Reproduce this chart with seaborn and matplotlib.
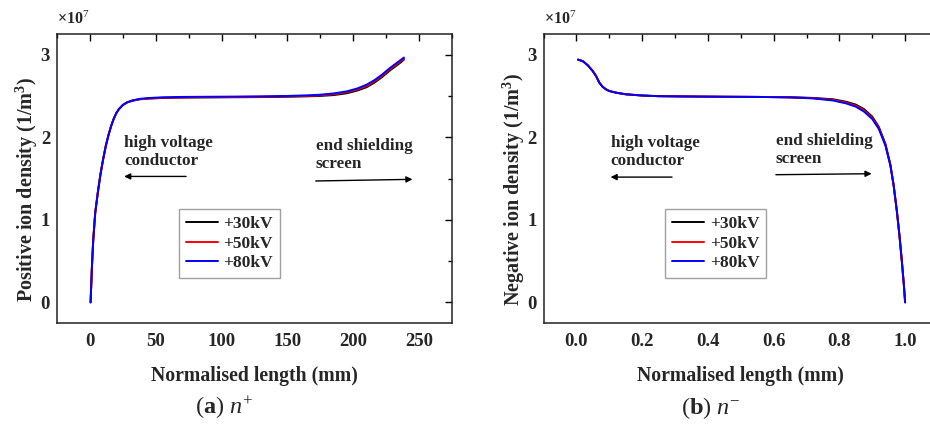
import matplotlib
matplotlib.use("Agg")
import matplotlib.pyplot as plt
from matplotlib.ticker import MultipleLocator
import seaborn as sns
import pandas as pd

# ---- data (densities in units of 1e7 1/m^3) ----
series = ["+30kV", "+50kV", "+80kV"]
colors = ["black", "red", "blue"]

pos_x = [0.5, 1.5, 2.5, 4, 6, 8, 10, 12, 14, 16, 18, 20, 22, 25, 28, 32, 38, 45,
         55, 70, 90, 110, 130, 150, 165, 175, 185, 195, 203, 210, 216, 222, 228,
         233, 236, 238.5]
pos_30 = [0, 0.42, 0.75, 1.08, 1.33, 1.55, 1.73, 1.89, 2.02, 2.13, 2.22, 2.29,
          2.34, 2.39, 2.42, 2.44, 2.46, 2.468, 2.475, 2.48, 2.482, 2.484, 2.486,
          2.49, 2.495, 2.50, 2.51, 2.532, 2.565, 2.605, 2.66, 2.73, 2.81, 2.87,
          2.905, 2.94]
pos_50 = [0, 0.42, 0.75, 1.08, 1.33, 1.55, 1.73, 1.89, 2.02, 2.13, 2.22, 2.29,
          2.34, 2.39, 2.42, 2.443, 2.46, 2.47, 2.478, 2.482, 2.485, 2.487, 2.49,
          2.495, 2.50, 2.507, 2.52, 2.545, 2.578, 2.62, 2.675, 2.745, 2.825,
          2.885, 2.92, 2.952]
pos_80 = [0, 0.42, 0.75, 1.08, 1.33, 1.55, 1.73, 1.89, 2.02, 2.13, 2.22, 2.29,
          2.34, 2.39, 2.42, 2.445, 2.465, 2.475, 2.483, 2.488, 2.49, 2.492,
          2.495, 2.50, 2.507, 2.515, 2.53, 2.555, 2.59, 2.635, 2.69, 2.76, 2.84,
          2.90, 2.935, 2.965]

neg_x = [0.005, 0.02, 0.035, 0.05, 0.06, 0.07, 0.08, 0.09, 0.10, 0.12, 0.15,
         0.20, 0.25, 0.35, 0.45, 0.55, 0.65, 0.72, 0.78, 0.82, 0.85, 0.875,
         0.90, 0.92, 0.94, 0.955, 0.965, 0.975, 0.983, 0.99, 0.996, 1.0]
neg_30 = [2.94, 2.92, 2.87, 2.80, 2.74, 2.66, 2.61, 2.58, 2.56, 2.54, 2.52,
          2.505, 2.497, 2.493, 2.49, 2.488, 2.484, 2.476, 2.46, 2.43, 2.395,
          2.34, 2.25, 2.125, 1.92, 1.67, 1.42, 1.10, 0.80, 0.50, 0.22, 0.0]
neg_50 = [2.94, 2.92, 2.87, 2.80, 2.74, 2.66, 2.61, 2.58, 2.56, 2.54, 2.52,
          2.505, 2.497, 2.493, 2.49, 2.488, 2.483, 2.473, 2.453, 2.42, 2.383,
          2.325, 2.235, 2.112, 1.91, 1.665, 1.42, 1.10, 0.80, 0.50, 0.22, 0.0]
neg_80 = [2.94, 2.92, 2.87, 2.80, 2.74, 2.66, 2.61, 2.58, 2.56, 2.54, 2.52,
          2.505, 2.497, 2.493, 2.49, 2.488, 2.482, 2.47, 2.445, 2.41, 2.37,
          2.31, 2.22, 2.10, 1.90, 1.66, 1.42, 1.10, 0.80, 0.50, 0.22, 0.0]

pos_x_ticks = [0, 50, 100, 150, 200, 250]
neg_x_ticks = [0.0, 0.2, 0.4, 0.6, 0.8, 1.0]
y_ticks = [0, 1, 2, 3]


def long_table(x, ys):
    frames = []
    for name, y in zip(series, ys):
        frames.append(pd.DataFrame({"x": x, "y": y, "series": name}))
    return pd.concat(frames, ignore_index=True)


pos_df = long_table(pos_x, [pos_30, pos_50, pos_80])
neg_df = long_table(neg_x, [neg_30, neg_50, neg_80])

sns.set_theme(style="white")
plt.rcParams["font.family"] = ["Liberation Serif", "DejaVu Serif"]
plt.rcParams["font.weight"] = "bold"
plt.rcParams["mathtext.fontset"] = "custom"
plt.rcParams["mathtext.rm"] = "Liberation Serif:weight=normal"
plt.rcParams["mathtext.it"] = "Liberation Serif:style=italic:weight=normal"
plt.rcParams["mathtext.bf"] = "Liberation Serif:weight=bold"

fig = plt.figure(figsize=(9.3, 4.25), dpi=100)
ax1 = fig.add_axes([57 / 930, 102 / 425, 395 / 930, 289 / 425])
ax2 = fig.add_axes([543.5 / 930, 102 / 425, 394.5 / 930, 289 / 425])

palette = dict(zip(series, colors))
for ax, df in ((ax1, pos_df), (ax2, neg_df)):
    sns.lineplot(data=df, x="x", y="y", hue="series", palette=palette,
                 hue_order=series, estimator=None, sort=False, lw=1.4, ax=ax)

ax1.set_xlim(-25, 275)
ax2.set_xlim(-0.1, 1.1)
ax1.set_xticks(pos_x_ticks)
ax1.xaxis.set_minor_locator(MultipleLocator(25))
ax2.set_xticks(neg_x_ticks)
ax2.set_xticklabels([f"{v:.1f}" for v in neg_x_ticks])
ax2.xaxis.set_minor_locator(MultipleLocator(0.1))

ylabels = ["Positive ion density (1/m$^{\\mathbf{3}}$)",
           "Negative ion density (1/m$^{\\mathbf{3}}$)"]

for ax, yl in zip((ax1, ax2), ylabels):
    ax.set_ylim(-0.25, 3.25)
    ax.set_yticks(y_ticks)
    ax.yaxis.set_minor_locator(MultipleLocator(0.5))
    ax.tick_params(which="both", direction="in", top=True, right=True,
                   color="black", width=1.0)
    ax.tick_params(which="major", length=5, labelsize=13.5, pad=7)
    ax.tick_params(axis="y", which="major", pad=5)
    ax.tick_params(which="minor", length=3)
    for lab in ax.get_xticklabels() + ax.get_yticklabels():
        lab.set_fontweight("bold")
    for sp in ax.spines.values():
        sp.set_color("#222222")
        sp.set_linewidth(1.1)
    ax.set_xlabel("Normalised length (mm)", fontsize=14.2, fontweight="bold",
                  labelpad=12)
    ax.set_ylabel(yl, fontsize=14.5, fontweight="bold")
    ax.yaxis.set_label_coords(-0.043, 0.462)
    ax.text(0.0, 1.02, "×10$^{7}$", transform=ax.transAxes, ha="left",
            va="bottom", fontsize=11.5, fontweight="bold")
    leg = ax.legend(loc="upper left", bbox_to_anchor=(0.309, 0.394),
                    fontsize=12.5, frameon=True, fancybox=False,
                    handlelength=1.85, handletextpad=0.3, labelspacing=0.2,
                    borderpad=0.4, borderaxespad=0)
    leg.get_frame().set_edgecolor("#888888")
    leg.get_frame().set_linewidth(1.0)
    for t in leg.get_texts():
        t.set_fontweight("bold")
    for h in leg.get_lines():
        h.set_linewidth(1.4)

arrow = dict(arrowstyle="-|>", color="black", lw=1.0, mutation_scale=9,
             shrinkA=0, shrinkB=0)
note_kw = dict(fontsize=12.3, fontweight="bold", ha="left", va="top",
               linespacing=1.15)

# left panel notes
ax1.text(26, 2.03, "high voltage\nconductor", **note_kw)
ax1.annotate("", xy=(26, 1.525), xytext=(73, 1.525), arrowprops=arrow)
ax1.text(171.5, 1.99, "end shielding\nscreen", **note_kw)
ax1.annotate("", xy=(245, 1.49), xytext=(171.5, 1.47), arrowprops=arrow)

# right panel notes
ax2.text(0.104, 2.03, "high voltage\nconductor", **note_kw)
ax2.annotate("", xy=(0.104, 1.517), xytext=(0.291, 1.517), arrowprops=arrow)
ax2.text(0.607, 2.05, "end shielding\nscreen", **note_kw)
ax2.annotate("", xy=(0.898, 1.558), xytext=(0.607, 1.546), arrowprops=arrow)

# panel captions
fig.text(224 / 930, 1 - 408 / 425, "($\\mathbf{a}$) $n^{+}$", ha="center",
         va="center", fontsize=17.5, fontweight="normal")
fig.text(711 / 930, 1 - 408 / 425, "($\\mathbf{b}$) $n^{-}$", ha="center",
         va="center", fontsize=17.5, fontweight="normal")

fig.savefig("out.png", dpi=100)
